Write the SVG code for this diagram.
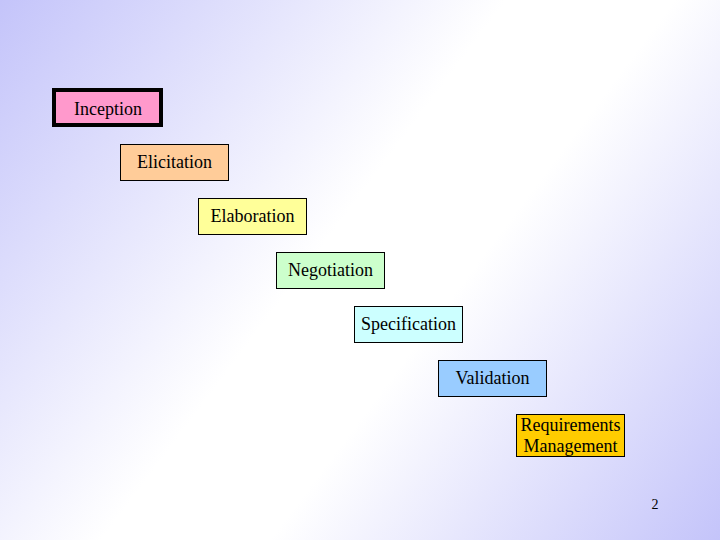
<svg xmlns="http://www.w3.org/2000/svg" width="720" height="540" viewBox="0 0 720 540">
<defs>
<linearGradient id="bg" x1="0" y1="0" x2="720" y2="540" gradientUnits="userSpaceOnUse">
<stop offset="0" stop-color="#c4c4fa"/>
<stop offset="0.45" stop-color="#ffffff"/>
<stop offset="0.6" stop-color="#ffffff"/>
<stop offset="1" stop-color="#c4c4fa"/>
</linearGradient>
</defs>
<style>
.box{stroke:#000;stroke-width:1}
.lbl{font-family:"Liberation Serif","Times New Roman",serif;font-size:18px;fill:#000;text-anchor:middle}
</style>
<rect x="0" y="0" width="720" height="540" fill="url(#bg)"/>
<g id="inception">
<rect x="54" y="90" width="107" height="35" fill="#ff99cc" stroke="#000" stroke-width="4"/>
<text class="lbl" x="108" y="115">Inception</text>
</g>
<g id="elicitation">
<rect class="box" x="120.5" y="144.5" width="108" height="36" fill="#ffcc99"/>
<text class="lbl" x="174.5" y="168">Elicitation</text>
</g>
<g id="elaboration">
<rect class="box" x="198.5" y="198.5" width="108" height="36" fill="#ffff99"/>
<text class="lbl" x="252.5" y="222">Elaboration</text>
</g>
<g id="negotiation">
<rect class="box" x="276.5" y="252.5" width="108" height="36" fill="#ccffcc"/>
<text class="lbl" x="330.5" y="276">Negotiation</text>
</g>
<g id="specification">
<rect class="box" x="354.5" y="306.5" width="108" height="36" fill="#ccffff"/>
<text class="lbl" x="408.5" y="330">Specification</text>
</g>
<g id="validation">
<rect class="box" x="438.5" y="360.5" width="108" height="36" fill="#99ccff"/>
<text class="lbl" x="492.5" y="384">Validation</text>
</g>
<g id="requirements-management">
<rect class="box" x="516.5" y="414.5" width="108" height="42" fill="#ffcc00"/>
<text class="lbl" x="570.5" y="431">Requirements</text>
<text class="lbl" x="570.5" y="452">Management</text>
</g>
<g id="connectors"/>
<text x="655" y="509" font-family="'Liberation Serif','Times New Roman',serif" font-size="14" text-anchor="middle">2</text>
</svg>
